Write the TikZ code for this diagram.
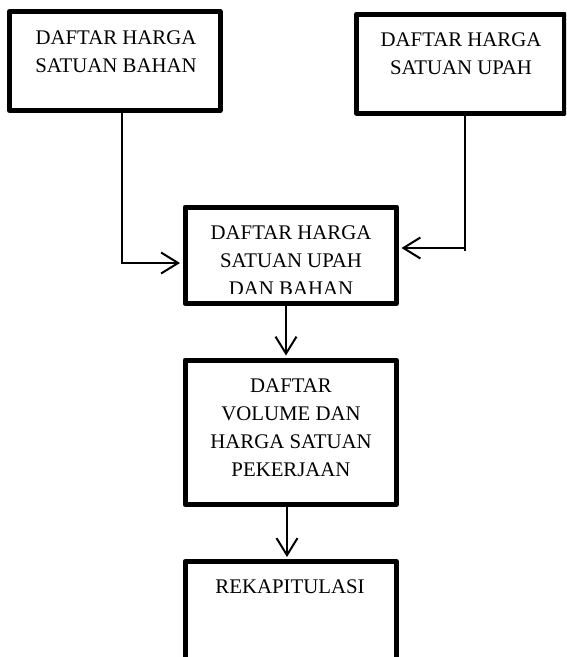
\documentclass[tikz,border=0pt]{standalone}
\usepackage{fontspec}
\setmainfont{Liberation Serif}
\usetikzlibrary{arrows.meta}
\begin{document}
\begin{tikzpicture}[x=1pt,y=-1pt,
  box/.style={draw=black, line width=5pt, line join=round, rectangle, inner sep=0pt},
  lbl/.style={font=\fontsize{20.8}{28}\selectfont, align=center, anchor=north, inner sep=0pt},
  conn/.style={line width=1.3pt, -{Straight Barb[length=17pt,width=21pt,line width=2pt]}},
  down/.style={line width=2pt, shorten >=2pt, -{Straight Barb[length=17pt,width=21pt]}}]
\clip (0,0) rectangle (566,657);
\fill[white] (0,0) rectangle (566,657);
% boxes
\node[box, minimum width=210.5pt, minimum height=99pt] (b1) at (114.75,61) {};
\node[box, minimum width=207.5pt, minimum height=99pt] (b2) at (460.25,63.5) {};
\node[box, minimum width=211.5pt, minimum height=96.5pt] (b3) at (290.75,255.25) {};
\node[box, minimum width=211.5pt, minimum height=144.5pt] (b4) at (290.75,432.25) {};
\node[box, minimum width=211.5pt, minimum height=130pt] (b5) at (290.75,626.5) {};
% texts
\node[lbl] (t1) at (116,30.4) {DAFTAR HARGA\\SATUAN BAHAN};
\node[lbl] (t2) at (461,32.4) {DAFTAR HARGA\\SATUAN UPAH};
\begin{scope}
  \clip (185,207) rectangle (397,293);
  \node[lbl] (t3) at (291,225.4) {DAFTAR HARGA\\SATUAN UPAH\\DAN BAHAN};
\end{scope}
\node[lbl] (t4) at (291,378.4) {DAFTAR\\VOLUME DAN\\HARGA SATUAN\\PEKERJAAN};
\node[lbl] (t5) at (290,579.4) {REKAPITULASI};
% connectors
\coordinate (k1) at (122,263);
\coordinate (k2) at (465,248);
\draw[conn] (k1 |- b1.south) -- (k1) -- ([xshift=-2.5pt]k1 -| b3.west);
\draw[conn] (k2 |- b2.south) -- (k2) -- ([xshift=2.5pt]k2 -| b3.east);
\draw[line width=1.3pt] (k2) -- ++(0,2.5);
\draw[down] ([xshift=-4.75pt]b3.south) -- ([xshift=-4.75pt]b4.north);
\draw[down] ([xshift=-3.75pt]b4.south) -- ([xshift=-3.75pt]b5.north);
\end{tikzpicture}
\end{document}
